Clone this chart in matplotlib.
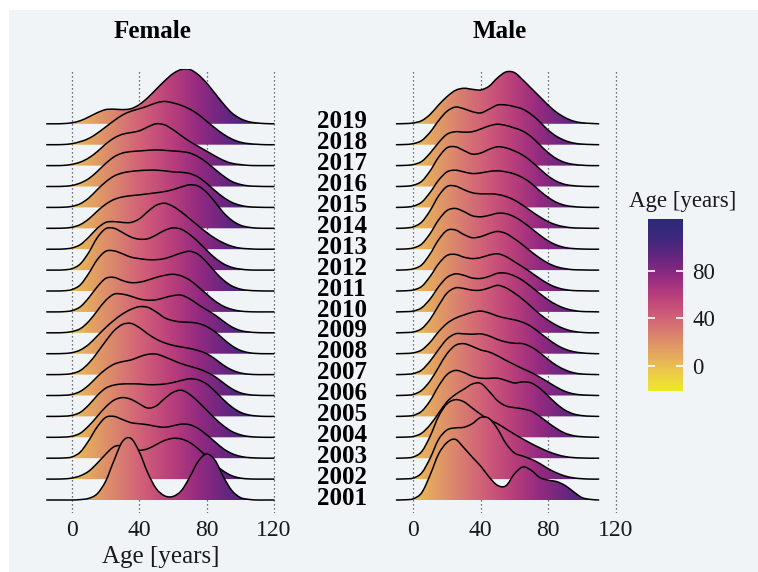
import numpy as np
import matplotlib.pyplot as plt
from matplotlib.path import Path
from matplotlib.patches import PathPatch, Rectangle
from matplotlib.colors import LinearSegmentedColormap
import matplotlib.transforms as mtransforms

plt.rcParams['font.family'] = ['Liberation Serif', 'DejaVu Serif']

years = list(range(2001, 2020))
female_ages = list(range(-15, 121, 5))
male_ages = list(range(-10, 111, 5))
grid_ages = [0, 40, 80, 120]
cbar_ticks = [0, 40, 80]
age_min, age_max = -21.4, 123.9

# density heights, rows 2001 -> 2019 (1 = one row step)
female_density = [
    [0, 0, 0, 0, 0.02, 0.08, 0.3, 0.9, 1.9, 2.8, 2.95, 2.3, 1.3, 0.55, 0.2, 0.17, 0.45, 1.1, 1.85, 2.2, 1.9, 1.1, 0.45, 0.12, 0.03, 0, 0, 0],
    [0, 0, 0.01, 0.05, 0.16, 0.38, 0.76, 1.19, 1.55, 1.6, 1.48, 1.38, 1.45, 1.65, 1.85, 1.95, 1.92, 1.75, 1.45, 1.08, 0.7, 0.38, 0.16, 0.05, 0.01, 0, 0, 0],
    [0, 0, 0.01, 0.06, 0.3, 0.85, 1.5, 1.95, 2.0, 1.85, 1.7, 1.65, 1.6, 1.52, 1.48, 1.55, 1.63, 1.6, 1.42, 1.12, 0.78, 0.45, 0.22, 0.09, 0.03, 0.01, 0, 0],
    [0, 0, 0.01, 0.05, 0.2, 0.55, 1.0, 1.45, 1.78, 1.9, 1.82, 1.6, 1.4, 1.5, 1.85, 2.15, 2.25, 2.05, 1.7, 1.3, 0.9, 0.55, 0.28, 0.12, 0.04, 0.01, 0, 0],
    [0, 0, 0.01, 0.05, 0.2, 0.55, 1.0, 1.35, 1.5, 1.55, 1.56, 1.55, 1.52, 1.52, 1.55, 1.62, 1.72, 1.8, 1.75, 1.55, 1.2, 0.8, 0.45, 0.2, 0.07, 0.02, 0, 0],
    [0, 0, 0.01, 0.05, 0.2, 0.5, 0.9, 1.25, 1.5, 1.62, 1.7, 1.85, 1.97, 1.98, 1.85, 1.68, 1.52, 1.4, 1.28, 1.12, 0.9, 0.6, 0.32, 0.13, 0.04, 0.01, 0, 0],
    [0, 0, 0.01, 0.05, 0.2, 0.55, 1.05, 1.6, 2.1, 2.4, 2.45, 2.25, 1.95, 1.7, 1.52, 1.4, 1.32, 1.25, 1.15, 1.0, 0.75, 0.45, 0.22, 0.08, 0.02, 0, 0, 0],
    [0, 0, 0.01, 0.05, 0.18, 0.45, 0.85, 1.25, 1.6, 1.9, 2.12, 2.25, 2.22, 2.0, 1.72, 1.58, 1.52, 1.5, 1.45, 1.3, 1.05, 0.7, 0.38, 0.16, 0.05, 0.01, 0, 0],
    [0, 0, 0.01, 0.06, 0.2, 0.55, 1.05, 1.55, 1.85, 1.85, 1.75, 1.62, 1.56, 1.58, 1.68, 1.78, 1.8, 1.62, 1.35, 1.1, 0.85, 0.55, 0.28, 0.11, 0.04, 0.01, 0, 0],
    [0, 0, 0.01, 0.06, 0.25, 0.68, 1.2, 1.6, 1.65, 1.5, 1.4, 1.42, 1.52, 1.65, 1.75, 1.8, 1.72, 1.52, 1.2, 0.85, 0.52, 0.27, 0.12, 0.04, 0.01, 0, 0, 0],
    [0, 0, 0.01, 0.07, 0.3, 0.85, 1.5, 1.9, 1.92, 1.78, 1.62, 1.55, 1.5, 1.5, 1.55, 1.68, 1.82, 1.9, 1.75, 1.38, 0.92, 0.52, 0.24, 0.09, 0.03, 0.01, 0, 0],
    [0, 0, 0.01, 0.07, 0.3, 0.85, 1.55, 1.98, 2.0, 1.8, 1.58, 1.48, 1.5, 1.68, 1.9, 2.02, 1.95, 1.7, 1.35, 0.95, 0.58, 0.3, 0.13, 0.05, 0.01, 0, 0, 0],
    [0, 0, 0.01, 0.06, 0.22, 0.58, 1.0, 1.28, 1.32, 1.28, 1.28, 1.45, 1.8, 2.1, 2.2, 2.05, 1.78, 1.45, 1.12, 0.8, 0.52, 0.3, 0.14, 0.05, 0.02, 0, 0, 0],
    [0, 0, 0.01, 0.05, 0.18, 0.45, 0.82, 1.15, 1.38, 1.5, 1.56, 1.6, 1.65, 1.7, 1.76, 1.85, 1.98, 2.08, 2.02, 1.72, 1.25, 0.75, 0.38, 0.15, 0.05, 0.01, 0, 0],
    [0, 0, 0.01, 0.05, 0.18, 0.45, 0.85, 1.22, 1.5, 1.65, 1.72, 1.76, 1.78, 1.78, 1.75, 1.7, 1.68, 1.62, 1.45, 1.15, 0.8, 0.48, 0.24, 0.1, 0.03, 0.01, 0, 0],
    [0, 0, 0.01, 0.05, 0.17, 0.38, 0.72, 1.1, 1.42, 1.6, 1.67, 1.7, 1.73, 1.75, 1.73, 1.7, 1.67, 1.6, 1.42, 1.15, 0.82, 0.5, 0.24, 0.1, 0.03, 0.01, 0, 0],
    [0, 0, 0.01, 0.06, 0.17, 0.37, 0.67, 1.03, 1.32, 1.5, 1.58, 1.66, 1.85, 2.0, 1.95, 1.72, 1.43, 1.15, 0.92, 0.69, 0.46, 0.25, 0.11, 0.05, 0.01, 0, 0, 0],
    [0, 0, 0.01, 0.05, 0.15, 0.3, 0.55, 0.85, 1.15, 1.42, 1.6, 1.72, 1.85, 2.0, 2.07, 2.0, 1.88, 1.7, 1.45, 1.12, 0.8, 0.5, 0.27, 0.12, 0.05, 0.02, 0, 0],
    [0, 0, 0.01, 0.05, 0.15, 0.33, 0.53, 0.68, 0.7, 0.68, 0.72, 0.92, 1.25, 1.65, 2.05, 2.4, 2.6, 2.6, 2.35, 1.95, 1.45, 0.95, 0.52, 0.25, 0.1, 0.04, 0.01, 0],
]

male_density = [
    [0, 0.01, 0.06, 0.35, 1.2, 2.2, 2.75, 2.9, 2.5, 2.05, 1.62, 1.1, 0.7, 0.68, 1.25, 1.58, 1.42, 1.08, 0.95, 0.88, 0.7, 0.4, 0.12, 0.03, 0],
    [0, 0.01, 0.05, 0.3, 1.0, 1.9, 2.35, 2.45, 2.48, 2.65, 2.95, 2.9, 2.4, 1.7, 1.25, 1.1, 0.95, 0.75, 0.5, 0.3, 0.15, 0.06, 0.02, 0, 0],
    [0, 0.01, 0.06, 0.32, 1.05, 2.0, 2.6, 2.8, 2.7, 2.4, 2.1, 1.85, 1.65, 1.4, 1.15, 0.92, 0.7, 0.5, 0.32, 0.18, 0.08, 0.03, 0.01, 0, 0],
    [0, 0.01, 0.04, 0.2, 0.6, 1.15, 1.7, 2.05, 2.3, 2.55, 2.58, 2.2, 1.75, 1.5, 1.42, 1.36, 1.25, 1.0, 0.7, 0.42, 0.2, 0.08, 0.03, 0.01, 0],
    [0, 0.01, 0.05, 0.25, 0.75, 1.45, 2.0, 2.2, 2.1, 1.92, 1.83, 1.82, 1.83, 1.72, 1.6, 1.65, 1.6, 1.35, 0.98, 0.6, 0.3, 0.12, 0.04, 0.01, 0],
    [0, 0.01, 0.05, 0.25, 0.7, 1.35, 2.0, 2.4, 2.48, 2.35, 2.18, 2.08, 1.9, 1.68, 1.48, 1.28, 1.1, 0.88, 0.64, 0.4, 0.2, 0.08, 0.03, 0.01, 0],
    [0, 0.01, 0.05, 0.22, 0.65, 1.2, 1.7, 1.95, 1.95, 1.93, 1.95, 1.85, 1.68, 1.56, 1.5, 1.48, 1.32, 1.05, 0.73, 0.44, 0.23, 0.09, 0.03, 0.01, 0],
    [0, 0.01, 0.04, 0.18, 0.55, 1.05, 1.45, 1.7, 1.85, 1.98, 2.04, 1.95, 1.8, 1.7, 1.62, 1.5, 1.3, 1.0, 0.7, 0.42, 0.22, 0.1, 0.04, 0.01, 0],
    [0, 0.01, 0.04, 0.2, 0.65, 1.3, 1.9, 2.15, 2.12, 2.04, 2.04, 2.15, 2.27, 2.15, 1.9, 1.6, 1.25, 0.9, 0.6, 0.36, 0.18, 0.07, 0.02, 0, 0],
    [0, 0.01, 0.04, 0.2, 0.62, 1.2, 1.65, 1.82, 1.75, 1.62, 1.6, 1.7, 1.85, 1.85, 1.72, 1.5, 1.2, 0.88, 0.58, 0.34, 0.17, 0.07, 0.02, 0.01, 0],
    [0, 0.01, 0.05, 0.22, 0.7, 1.3, 1.7, 1.75, 1.62, 1.55, 1.6, 1.72, 1.78, 1.65, 1.4, 1.15, 0.88, 0.6, 0.35, 0.17, 0.07, 0.02, 0.01, 0, 0],
    [0, 0.01, 0.06, 0.25, 0.78, 1.45, 1.9, 1.92, 1.7, 1.55, 1.6, 1.75, 1.85, 1.75, 1.5, 1.2, 0.88, 0.58, 0.33, 0.16, 0.07, 0.02, 0.01, 0, 0],
    [0, 0.01, 0.06, 0.25, 0.75, 1.4, 1.85, 1.95, 1.8, 1.6, 1.55, 1.62, 1.72, 1.7, 1.55, 1.3, 1.0, 0.68, 0.4, 0.2, 0.08, 0.03, 0.01, 0, 0],
    [0, 0.01, 0.07, 0.3, 0.85, 1.55, 2.0, 2.02, 1.85, 1.7, 1.65, 1.65, 1.62, 1.52, 1.35, 1.1, 0.82, 0.55, 0.32, 0.16, 0.07, 0.02, 0.01, 0, 0],
    [0, 0.01, 0.06, 0.25, 0.72, 1.3, 1.7, 1.78, 1.7, 1.62, 1.65, 1.72, 1.75, 1.7, 1.6, 1.42, 1.15, 0.8, 0.48, 0.24, 0.1, 0.04, 0.01, 0, 0],
    [0, 0.01, 0.06, 0.25, 0.75, 1.4, 1.85, 1.9, 1.72, 1.55, 1.6, 1.78, 1.9, 1.85, 1.7, 1.5, 1.2, 0.85, 0.5, 0.25, 0.1, 0.04, 0.01, 0, 0],
    [0, 0.01, 0.05, 0.2, 0.6, 1.1, 1.5, 1.62, 1.6, 1.62, 1.75, 1.9, 1.98, 1.92, 1.8, 1.65, 1.38, 1.0, 0.62, 0.33, 0.15, 0.06, 0.02, 0, 0],
    [0, 0.01, 0.05, 0.2, 0.6, 1.15, 1.6, 1.8, 1.72, 1.58, 1.52, 1.7, 1.9, 1.9, 1.82, 1.7, 1.45, 1.1, 0.7, 0.4, 0.2, 0.08, 0.03, 0.01, 0],
    [0, 0.01, 0.04, 0.15, 0.45, 0.9, 1.3, 1.6, 1.7, 1.65, 1.62, 1.8, 2.2, 2.48, 2.45, 2.1, 1.7, 1.3, 0.9, 0.55, 0.3, 0.13, 0.05, 0.02, 0],
]

BG = '#f0f4f7'
cmap = LinearSegmentedColormap.from_list('age', [
    '#efe82a', '#ecc94b', '#e4a461', '#d9806f', '#cf5c79',
    '#b93f7b', '#932a81', '#662680', '#3f287d', '#2b2a7a'])

W, H = 758, 572
fig = plt.figure(figsize=(W / 100, H / 100), dpi=100, facecolor='white')
fig.add_artist(Rectangle((9 / W, 0), 1, (H - 10) / H, transform=fig.transFigure,
                         facecolor=BG, edgecolor='none', zorder=-10))


def px_axes(left, top, right, bottom):
    return fig.add_axes([left / W, 1 - bottom / H, (right - left) / W, (bottom - top) / H])


def curve(xs, ys):
    pts = np.column_stack([xs, ys]).astype(float)
    n = len(pts)
    verts, codes = [pts[0]], [Path.MOVETO]
    for i in range(n - 1):
        p0, p1 = pts[max(i - 1, 0)], pts[i]
        p2, p3 = pts[i + 1], pts[min(i + 2, n - 1)]
        verts += [p1 + (p2 - p0) / 6, p2 - (p3 - p1) / 6, p2]
        codes += [Path.CURVE4] * 3
    return verts, codes


def ridges(ax, ages, rows):
    for k, h in enumerate(rows):
        ys = [k + v for v in h]
        verts, codes = curve(ages, ys)
        z = 2 * (len(rows) - k)
        fill = Path(verts + [(ages[-1], k), (ages[0], k), (ages[0], k)],
                    codes + [Path.LINETO, Path.LINETO, Path.CLOSEPOLY])
        clip = PathPatch(fill, transform=ax.transData, facecolor='none', edgecolor='none')
        ax.add_patch(clip)
        grad = np.linspace(age_min, age_max, 600).reshape(1, -1)
        im = ax.imshow(grad, extent=(age_min, age_max, k - 0.05, k + max(h) + 0.1),
                       cmap=cmap, vmin=age_min, vmax=age_max, aspect='auto',
                       origin='lower', zorder=z, interpolation='bilinear')
        im.set_clip_path(clip)
        ax.add_patch(PathPatch(Path(verts, codes), facecolor='none', edgecolor='black',
                               lw=1.1, zorder=z + 1, capstyle='round'))
    for g in grid_ages:
        ax.axvline(g, color='#444444', lw=0.9, ls=(0, (1, 2.2)), zorder=0.5)


ylim = (-13 / 20.9, 431 / 20.9)
ax_f = px_axes(72 - 20 * 1.683, 69, 72 + 124 * 1.683, 513)
ax_m = px_axes(413.3 - 12 * 1.685, 69, 413.3 + 124 * 1.685, 513)
ridges(ax_f, female_ages, female_density)
ridges(ax_m, male_ages, male_density)
for ax, lim in ((ax_f, (-20, 124)), (ax_m, (-12, 124))):
    ax.set_xlim(*lim)
    ax.set_ylim(*ylim)
    ax.set_facecolor('none')
    for s in ax.spines.values():
        s.set_visible(False)
    ax.set_yticks([])
    ax.set_xticks(grid_ages)
    ax.tick_params(axis='x', length=0, pad=5, labelsize=17, labelcolor='#1a1a1a')

fig.text(152.7 / W, 1 - 31 / H, 'Female', ha='center', va='center', fontsize=18, fontweight='bold')
fig.text(500 / W, 1 - 31 / H, 'Male', ha='center', va='center', fontsize=18, fontweight='bold')
fig.text(160.8 / W, 1 - 557 / H, 'Age [years]', ha='center', va='center', fontsize=18, color='#1a1a1a')

lab_tr = mtransforms.blended_transform_factory(fig.transFigure, ax_f.transData)
for k, yr in enumerate(years):
    ax_f.text(341.7 / W, k + 0.09, str(yr), transform=lab_tr, ha='center', va='center',
              fontsize=18, fontweight='bold', clip_on=False)

# colour bar
cax = px_axes(648, 219, 682.7, 391)
cax.imshow(np.linspace(age_min, age_max, 300).reshape(-1, 1), extent=(0, 1, age_min, age_max),
           cmap=cmap, vmin=age_min, vmax=age_max, aspect='auto', origin='lower')
cax.set_xlim(0, 1)
cax.set_ylim(age_min, age_max)
cax.hlines(cbar_ticks, 0, 0.2, color='white', lw=1.2)
cax.hlines(cbar_ticks, 0.8, 1, color='white', lw=1.2)
cax.set_xticks([])
cax.yaxis.tick_right()
cax.set_yticks(cbar_ticks)
cax.tick_params(axis='y', length=0, pad=7, labelsize=16.5, labelcolor='#1a1a1a')
for s in cax.spines.values():
    s.set_visible(False)
fig.text(629 / W, 1 - 201.7 / H, 'Age [years]', ha='left', va='center', fontsize=16.5, color='#1a1a1a')

fig.savefig('out.png', dpi=100, facecolor='white')
